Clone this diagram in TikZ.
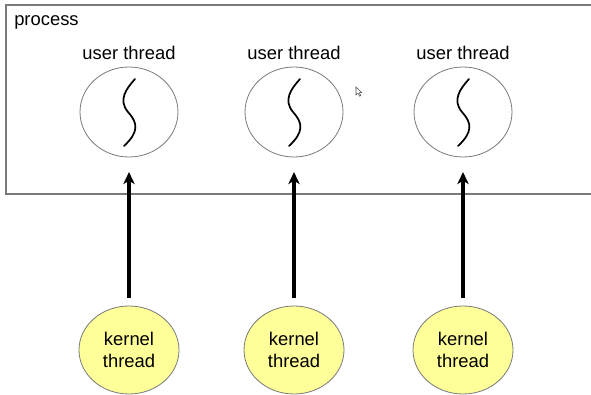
\documentclass[tikz,border=0pt]{standalone}
\usepackage{fontspec}
\setmainfont{Liberation Sans}
\usetikzlibrary{shapes.geometric,arrows.meta}
\definecolor{kfill}{HTML}{FFFF99}
\definecolor{edge}{HTML}{7A7A7A}
\tikzset{
  lbl/.style={font=\fontsize{13.8pt}{16pt}\selectfont, inner sep=0pt},
  uthread/.style={ellipse, draw=edge, line width=0.6pt, fill=white,
    minimum width=73.5pt, minimum height=67.5pt, inner sep=0pt},
  kthread/.style={ellipse, draw=edge, line width=0.6pt, fill=kfill,
    minimum width=75pt, minimum height=66pt, inner sep=0pt, align=center,
    font=\fontsize{13.8pt}{16.5pt}\selectfont},
  wave/.style={line width=1.3pt, line cap=round},
  arr/.style={line width=2.3pt, -{Stealth[length=9pt,width=8.5pt,inset=2.5pt]}},
}
\begin{document}
\begin{tikzpicture}[x=0.75pt,y=-0.75pt]
\useasboundingbox (0,0) rectangle (591,395);
\fill[white] (0,0) rectangle (591,395);
\begin{scope}
\clip (0,0) rectangle (591,395);
% process frame
\draw[edge, line width=0.8pt] (6,5) rectangle (600,194);
\end{scope}
\node[lbl, anchor=base west] (proc) at (14,26) {process};

% user threads
\foreach \i/\x in {1/129, 2/294, 3/463} {
  \node[uthread] (u\i) at (\x,112) {};
  \node[lbl] (ul\i) at (\x,53) {user thread};
  \draw[wave, shift={(u\i.center)}]
    (6,-33) .. controls (-3,-23) and (-11,-12) .. (-1,0)
            .. controls (9,11) and (10,20) .. (-5,34);
  \node[kthread] (k\i) at (\x,350) {kernel\\thread};
  \draw[arr] ([yshift=6pt]k\i.north) -- ([yshift=-11pt]u\i.south);
}

% mouse pointer
\draw[black!70, line width=0.4pt, fill=white]
  (356,87) -- (356,95) -- (358,93.2) -- (359.6,96.2) -- (360.8,95.6)
  -- (359.3,92.6) -- (361.6,92.6) -- cycle;
\end{tikzpicture}
\end{document}
